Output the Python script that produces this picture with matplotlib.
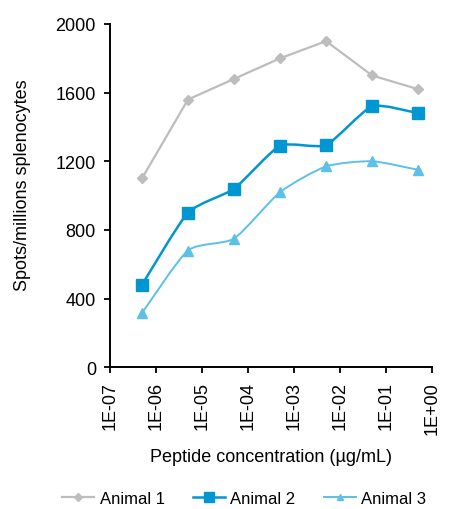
# Resposta ELISpot por concentração de peptídeo

import numpy as np
import matplotlib
matplotlib.use("Agg")
import matplotlib.pyplot as plt
from matplotlib.path import Path
from matplotlib.patches import PathPatch
from matplotlib.lines import Line2D

# Dados
concentracao = [5e-7, 5e-6, 5e-5, 5e-4, 5e-3, 5e-2, 5e-1]
animal_1 = [1100, 1560, 1680, 1800, 1900, 1700, 1620]
animal_2 = [480, 900, 1040, 1290, 1295, 1520, 1480]
animal_3 = [315, 680, 750, 1020, 1170, 1200, 1150]
rotulos_y = [0, 400, 800, 1200, 1600, 2000]
rotulos_x = ["1E-07", "1E-06", "1E-05", "1E-04", "1E-03", "1E-02", "1E-01", "1E+00"]

plt.rcParams["font.family"] = ["Liberation Sans", "DejaVu Sans"]


def curva_suave(ax, x, y, cor, lw, tensao=0.1):
    """
    Desenha uma linha suavizada (estilo Excel) passando pelos pontos,
    usando curvas de Bezier no espaço log(x).
    """
    lx = np.log10(x)
    y = np.asarray(y, dtype=float)
    n = len(lx)
    verts = [(lx[0], y[0])]
    codes = [Path.MOVETO]
    for i in range(n - 1):
        a = i - 1 if i > 0 else i
        b = i + 2 if i + 2 < n else i + 1
        c1 = (lx[i] + (lx[i + 1] - lx[a]) * tensao, y[i] + (y[i + 1] - y[a]) * tensao)
        c2 = (lx[i + 1] - (lx[b] - lx[i]) * tensao, y[i + 1] - (y[b] - y[i]) * tensao)
        verts += [c1, c2, (lx[i + 1], y[i + 1])]
        codes += [Path.CURVE4] * 3
    verts = [(10 ** vx, vy) for vx, vy in verts]
    ax.add_patch(PathPatch(Path(verts, codes), fill=False, edgecolor=cor, lw=lw,
                           capstyle="round", joinstyle="round"))


fig = plt.figure(figsize=(4.5, 5.1), dpi=100)
ax = fig.add_axes([0.244, 0.278, 0.716, 0.673])

cinza = "#BDBDBD"
azul = "#0096D1"
azul_claro = "#5CC0E8"
fs = 13

ax.plot(concentracao, animal_1, color=cinza, lw=1.6, marker="D", markersize=5,
        markerfacecolor=cinza, markeredgecolor=cinza)

curva_suave(ax, concentracao, animal_2, azul, 1.8)
ax.plot(concentracao, animal_2, linestyle="none", marker="s", markersize=8,
        markerfacecolor=azul, markeredgecolor=azul)

curva_suave(ax, concentracao, animal_3, azul_claro, 1.4, tensao=0.11)
ax.plot(concentracao, animal_3, linestyle="none", marker="^", markersize=7,
        markerfacecolor=azul_claro, markeredgecolor=azul_claro)

ax.set_xscale("log")
ax.set_xlim(1e-7, 1)
ax.set_ylim(0, 2000)
ax.set_xticks([10.0 ** k for k in range(-7, 1)])
ax.set_xticklabels(rotulos_x, rotation=90, fontsize=fs)
ax.minorticks_off()
ax.set_yticks(rotulos_y)
ax.set_yticklabels([str(v) for v in rotulos_y], fontsize=fs)

for lado in ["top", "right"]:
    ax.spines[lado].set_visible(False)
for lado in ["left", "bottom"]:
    ax.spines[lado].set_linewidth(1.4)
ax.tick_params(axis="both", direction="out", length=4, width=1.3, color="black")
ax.tick_params(axis="y", pad=6)
ax.tick_params(axis="x", pad=6)

ax.set_ylabel("Spots/millions splenocytes", fontsize=fs)
ax.yaxis.set_label_coords(-0.245, 0.534)
ax.set_xlabel("Peptide concentration (\u00b5g/mL)", fontsize=fs, labelpad=10)

handles = [
    Line2D([], [], color=cinza, lw=1.6, marker="D", markersize=4, label="Animal 1"),
    Line2D([], [], color=azul, lw=1.8, marker="s", markersize=7, label="Animal 2"),
    Line2D([], [], color=azul_claro, lw=1.4, marker="^", markersize=5, label="Animal 3"),
]
fig.legend(handles=handles, loc="center left", bbox_to_anchor=(0.138, 0.02),
           ncol=3, frameon=False, fontsize=12, handlelength=1.9,
           handletextpad=0.35, columnspacing=1.7, borderpad=0, borderaxespad=0)

fig.savefig("out.png", dpi=100)
